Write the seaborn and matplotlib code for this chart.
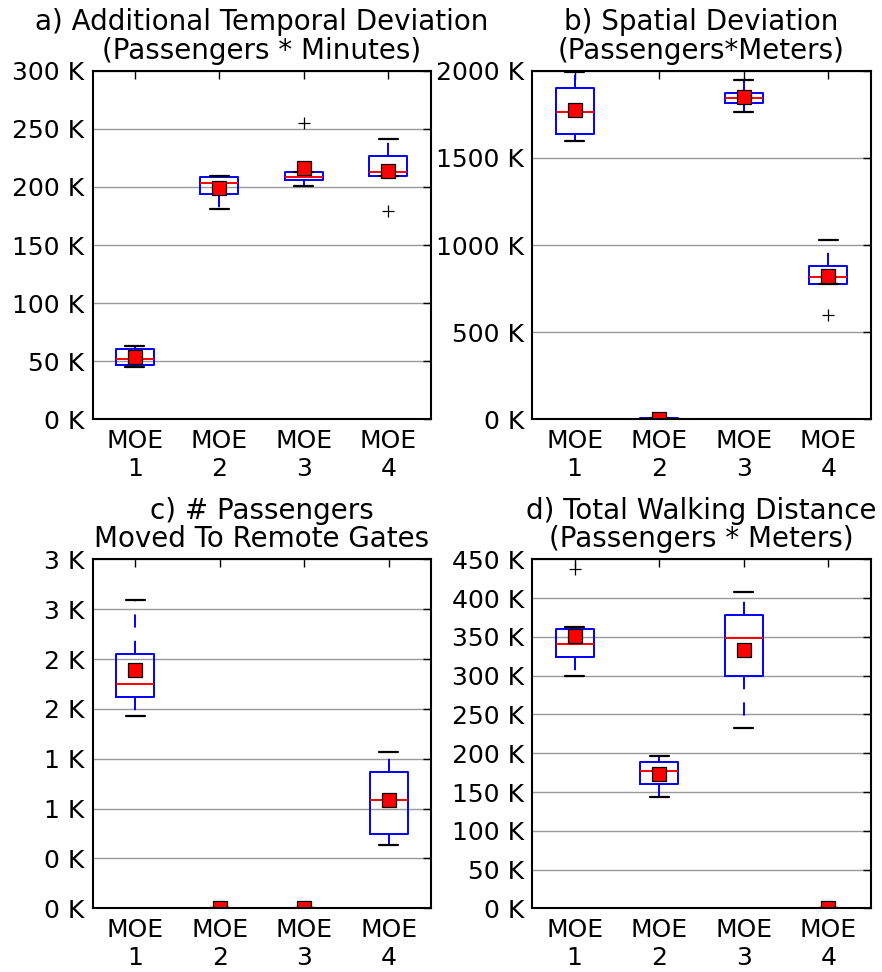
import matplotlib
matplotlib.use("Agg")
import matplotlib.pyplot as plt
from matplotlib.ticker import FuncFormatter, MultipleLocator
import seaborn as sns
import pandas as pd

# Scenario labels shared by all four panels
moe_labels = ["MOE\n1", "MOE\n2", "MOE\n3", "MOE\n4"]

# a) Additional temporal deviation, thousands of passenger-minutes per run
temporal_moe1 = [45.3, 47.0, 52.0, 60.5, 63.0]
temporal_moe2 = [181.0, 194.0, 203.6, 208.3, 209.4]
temporal_moe3 = [200.5, 205.6, 208.8, 212.5, 254.7]
temporal_moe4 = [179.5, 209.1, 212.8, 226.9, 241.5]

# b) Spatial deviation, thousands of passenger-meters per run
spatial_moe1 = [1595, 1635, 1765, 1899, 1993]
spatial_moe2 = [0, 2, 4, 6, 8]
spatial_moe3 = [1761, 1816, 1842, 1874, 1945]
spatial_moe4 = [598, 775, 818, 881, 1027]

# c) Passengers moved to remote gates per run
remote_moe1 = [1925, 2119, 2253, 2553, 3092]
remote_moe2 = [0, 0, 0, 0, 0]
remote_moe3 = [0, 0, 0, 0, 0]
remote_moe4 = [635, 748, 1089, 1370, 1568]

# d) Total walking distance, thousands of passenger-meters per run
walking_moe1 = [300.0, 321.4, 330.2, 351.4, 363.0, 437.5]
walking_moe2 = [143.0, 160.3, 176.6, 188.6, 196.0]
walking_moe3 = [232.9, 299.5, 348.9, 378.6, 408.0]
walking_moe4 = [0, 0, 0, 0, 0]

panels = [
    dict(title=("a) Additional Temporal Deviation", "(Passengers * Minutes)"),
         groups=[temporal_moe1, temporal_moe2, temporal_moe3, temporal_moe4],
         scale=1000, ymax=300000, step=50000,
         rect=[0.1051, 0.5686, 0.3832, 0.3586]),
    dict(title=("b) Spatial Deviation", "(Passengers*Meters)"),
         groups=[spatial_moe1, spatial_moe2, spatial_moe3, spatial_moe4],
         scale=1000, ymax=2000000, step=500000,
         rect=[0.6035, 0.5686, 0.3837, 0.3586]),
    dict(title=("c) # Passengers", "Moved To Remote Gates"),
         groups=[remote_moe1, remote_moe2, remote_moe3, remote_moe4],
         scale=1, ymax=3500, step=500,
         rect=[0.1051, 0.0655, 0.3839, 0.3590]),
    dict(title=("d) Total Walking Distance", "(Passengers * Meters)"),
         groups=[walking_moe1, walking_moe2, walking_moe3, walking_moe4],
         scale=1000, ymax=450000, step=50000,
         rect=[0.6035, 0.0655, 0.3837, 0.3590]),
]

sns.set_theme(style="white")
plt.rcParams.update({
    "font.family": ["DejaVu Sans"],
    "font.size": 18,
    "text.color": "black",
    "axes.titlecolor": "black",
    "axes.linewidth": 1.5,
    "axes.edgecolor": "black",
    "xtick.direction": "in",
    "ytick.direction": "in",
    "xtick.top": True,
    "ytick.right": True,
    "xtick.major.size": 6,
    "ytick.major.size": 6,
    "xtick.major.width": 1.0,
    "ytick.major.width": 1.0,
    "xtick.major.pad": 7,
    "ytick.major.pad": 6,
    "xtick.color": "black",
    "ytick.color": "black",
    "lines.scale_dashes": False,
})

kfmt = FuncFormatter(lambda v, pos: "%d K" % (v / 1000))

fig = plt.figure(figsize=(8.82, 9.72), dpi=100)

for p in panels:
    ax = fig.add_axes(p["rect"])
    rows = []
    for label, vals in zip(moe_labels, p["groups"]):
        for v in vals:
            rows.append({"scenario": label, "value": v * p["scale"]})
    df = pd.DataFrame(rows)

    sns.boxplot(
        data=df, x="scenario", y="value", order=moe_labels, ax=ax,
        fill=False, color="blue", width=0.45, whis=1.5,
        boxprops=dict(color="blue", linewidth=1.4),
        medianprops=dict(color="red", linewidth=1.4),
        whiskerprops=dict(color="blue", linewidth=1.4,
                          linestyle=(0, (9.5, 9.5))),
        capprops=dict(color="black", linewidth=1.6),
        flierprops=dict(marker="+", markersize=9, markeredgecolor="black",
                        markerfacecolor="black", markeredgewidth=0.9),
        showmeans=True,
        meanprops=dict(marker="s", markersize=9.5, markerfacecolor="red",
                       markeredgecolor="black", markeredgewidth=0.9),
    )

    ax.set_xlim(-0.5, 3.5)
    ax.set_ylim(0, p["ymax"])
    ax.yaxis.set_major_locator(MultipleLocator(p["step"]))
    ax.yaxis.set_major_formatter(kfmt)
    ax.set_xlabel("")
    ax.set_ylabel("")

    # Two-line panel heading, each line centred above the axes
    first, second = p["title"]
    for txt, offset in ((second, 4.5), (first, 25.0)):
        ax.annotate(txt, xy=(0.5, 1.0), xycoords="axes fraction",
                    xytext=(0, offset), textcoords="offset points",
                    ha="center", va="bottom", fontsize=20, color="black")

    ax.yaxis.grid(True, color="#9a9a9a", linewidth=1.0)
    ax.xaxis.grid(False)
    ax.set_axisbelow(True)
    ax.tick_params(axis="both", labelsize=18, labelcolor="black")
    for lbl in ax.get_xticklabels():
        lbl.set_linespacing(1.2)
    for s in ax.spines.values():
        s.set_visible(True)
        s.set_color("black")
        s.set_linewidth(1.5)

fig.savefig("out.png", dpi=100)
